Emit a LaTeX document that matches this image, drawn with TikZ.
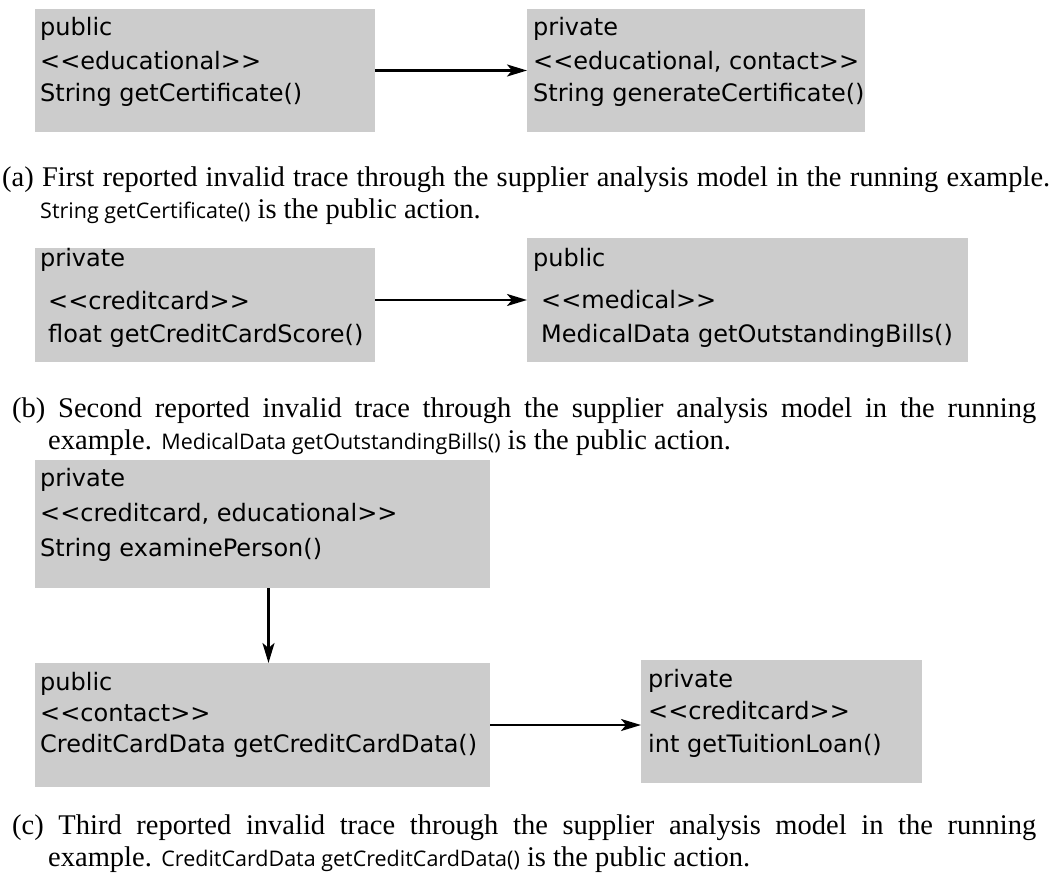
\documentclass[tikz,border=0pt]{standalone}
\usepackage{fontspec}
\usepackage{graphicx}
\setmainfont{Liberation Serif}
\newfontfamily\boxfont{DejaVu Sans}
\newfontfamily\codefont{Open Sans}
\usetikzlibrary{arrows.meta}
\definecolor{boxgray}{RGB}{204,204,204}
\newcommand{\stL}{<\kern0pt<}
\newcommand{\stR}{>\kern0pt>}
\newcommand{\cd}[1]{{\codefont\fontsize{21.5}{24}\selectfont #1}}
\tikzset{
  umlbox/.style={fill=boxgray, draw=none, inner sep=0pt, outer sep=0pt, anchor=north west},
  boxtxt/.style={anchor=base west, inner sep=0pt, font=\boxfont\fontsize{24}{28}\selectfont},
  captxt/.style={anchor=base west, inner sep=0pt, font=\fontsize{28.5}{32}\selectfont},
  flow/.style={-{Stealth[length=20pt,width=12pt,inset=5pt]}, line width=2.4pt},
}
\begin{document}
\begin{tikzpicture}[x=1pt,y=-1pt]
\useasboundingbox (0,0) rectangle (1055,875);
% (a)
\node[umlbox, minimum width=340pt, minimum height=123pt] (a1) at (35,9) {};
\node[umlbox, minimum width=338pt, minimum height=123pt] (a2) at (527,9) {};
\node[boxtxt] (a1t1) at (40,36) {public};
\node[boxtxt] (a1t2) at (40,70) {\stL educational\stR};
\node[boxtxt] (a1t3) at (40,102) {String getCertificate()};
\node[boxtxt] (a2t1) at (533,36) {private};
\node[boxtxt] (a2t2) at (533,70) {\stL educational, contact\stR};
\node[boxtxt] (a2t3) at (533,102) {String generateCertificate()};
\draw[flow] (a1.east) -- (a2.west);
\node[captxt] (capa1) at (2,186) {\makebox[1048pt][s]{(a) First reported invalid trace through the supplier analysis model in the running example.}};
\node[captxt] (capa2) at (40,218) {\cd{String getCertificate()} is the public action.};
% (b)
\node[umlbox, minimum width=340pt, minimum height=114pt] (b1) at (35,248) {};
\node[umlbox, minimum width=441pt, minimum height=124pt] (b2) at (527,238) {};
\node[boxtxt] (b1t1) at (40,266) {private};
\node[boxtxt] (b1t2) at (48,309) {\stL creditcard\stR};
\node[boxtxt] (b1t3) at (48,342) {float getCreditCardScore()};
\node[boxtxt] (b2t1) at (533,266) {public};
\node[boxtxt] (b2t2) at (541,308) {\stL medical\stR};
\node[boxtxt] (b2t3) at (541,342) {MedicalData getOutstandingBills()};
\draw[flow] (b1.east |- b2.west) -- (b2.west);
\node[captxt] (capb1) at (12,417) {\makebox[1024pt][s]{(b) Second reported invalid trace through the supplier analysis model in the running}};
\node[captxt] (capb2) at (48,449) {example. \cd{MedicalData getOutstandingBills()} is the public action.};
% (c)
\node[umlbox, minimum width=455pt, minimum height=128pt] (c1) at (35,460) {};
\node[umlbox, minimum width=455pt, minimum height=124pt] (c2) at (35,663) {};
\node[umlbox, minimum width=281pt, minimum height=123pt] (c3) at (641,660) {};
\node[boxtxt] (c1t1) at (40,486) {private};
\node[boxtxt] (c1t2) at (40,521) {\stL creditcard, educational\stR};
\node[boxtxt] (c1t3) at (40,556) {String examinePerson()};
\node[boxtxt] (c2t1) at (40,690) {public};
\node[boxtxt] (c2t2) at (40,721) {\stL contact\stR};
\node[boxtxt] (c2t3) at (40,752) {CreditCardData getCreditCardData()};
\node[boxtxt] (c3t1) at (648,687) {private};
\node[boxtxt] (c3t2) at (648,719) {\stL creditcard\stR};
\node[boxtxt] (c3t3) at (648,752) {int getTuitionLoan()};
\draw[flow] ([xshift=6pt]c1.south) -- ([xshift=6pt]c2.north);
\draw[flow] (c2.east) -- (c2.east -| c3.west);
\node[captxt] (capc1) at (12,834) {\makebox[1024pt][s]{(c) Third reported invalid trace through the supplier analysis model in the running}};
\node[captxt] (capc2) at (48,866) {example. \cd{CreditCardData getCreditCardData()} is the public action.};
\end{tikzpicture}
\end{document}
